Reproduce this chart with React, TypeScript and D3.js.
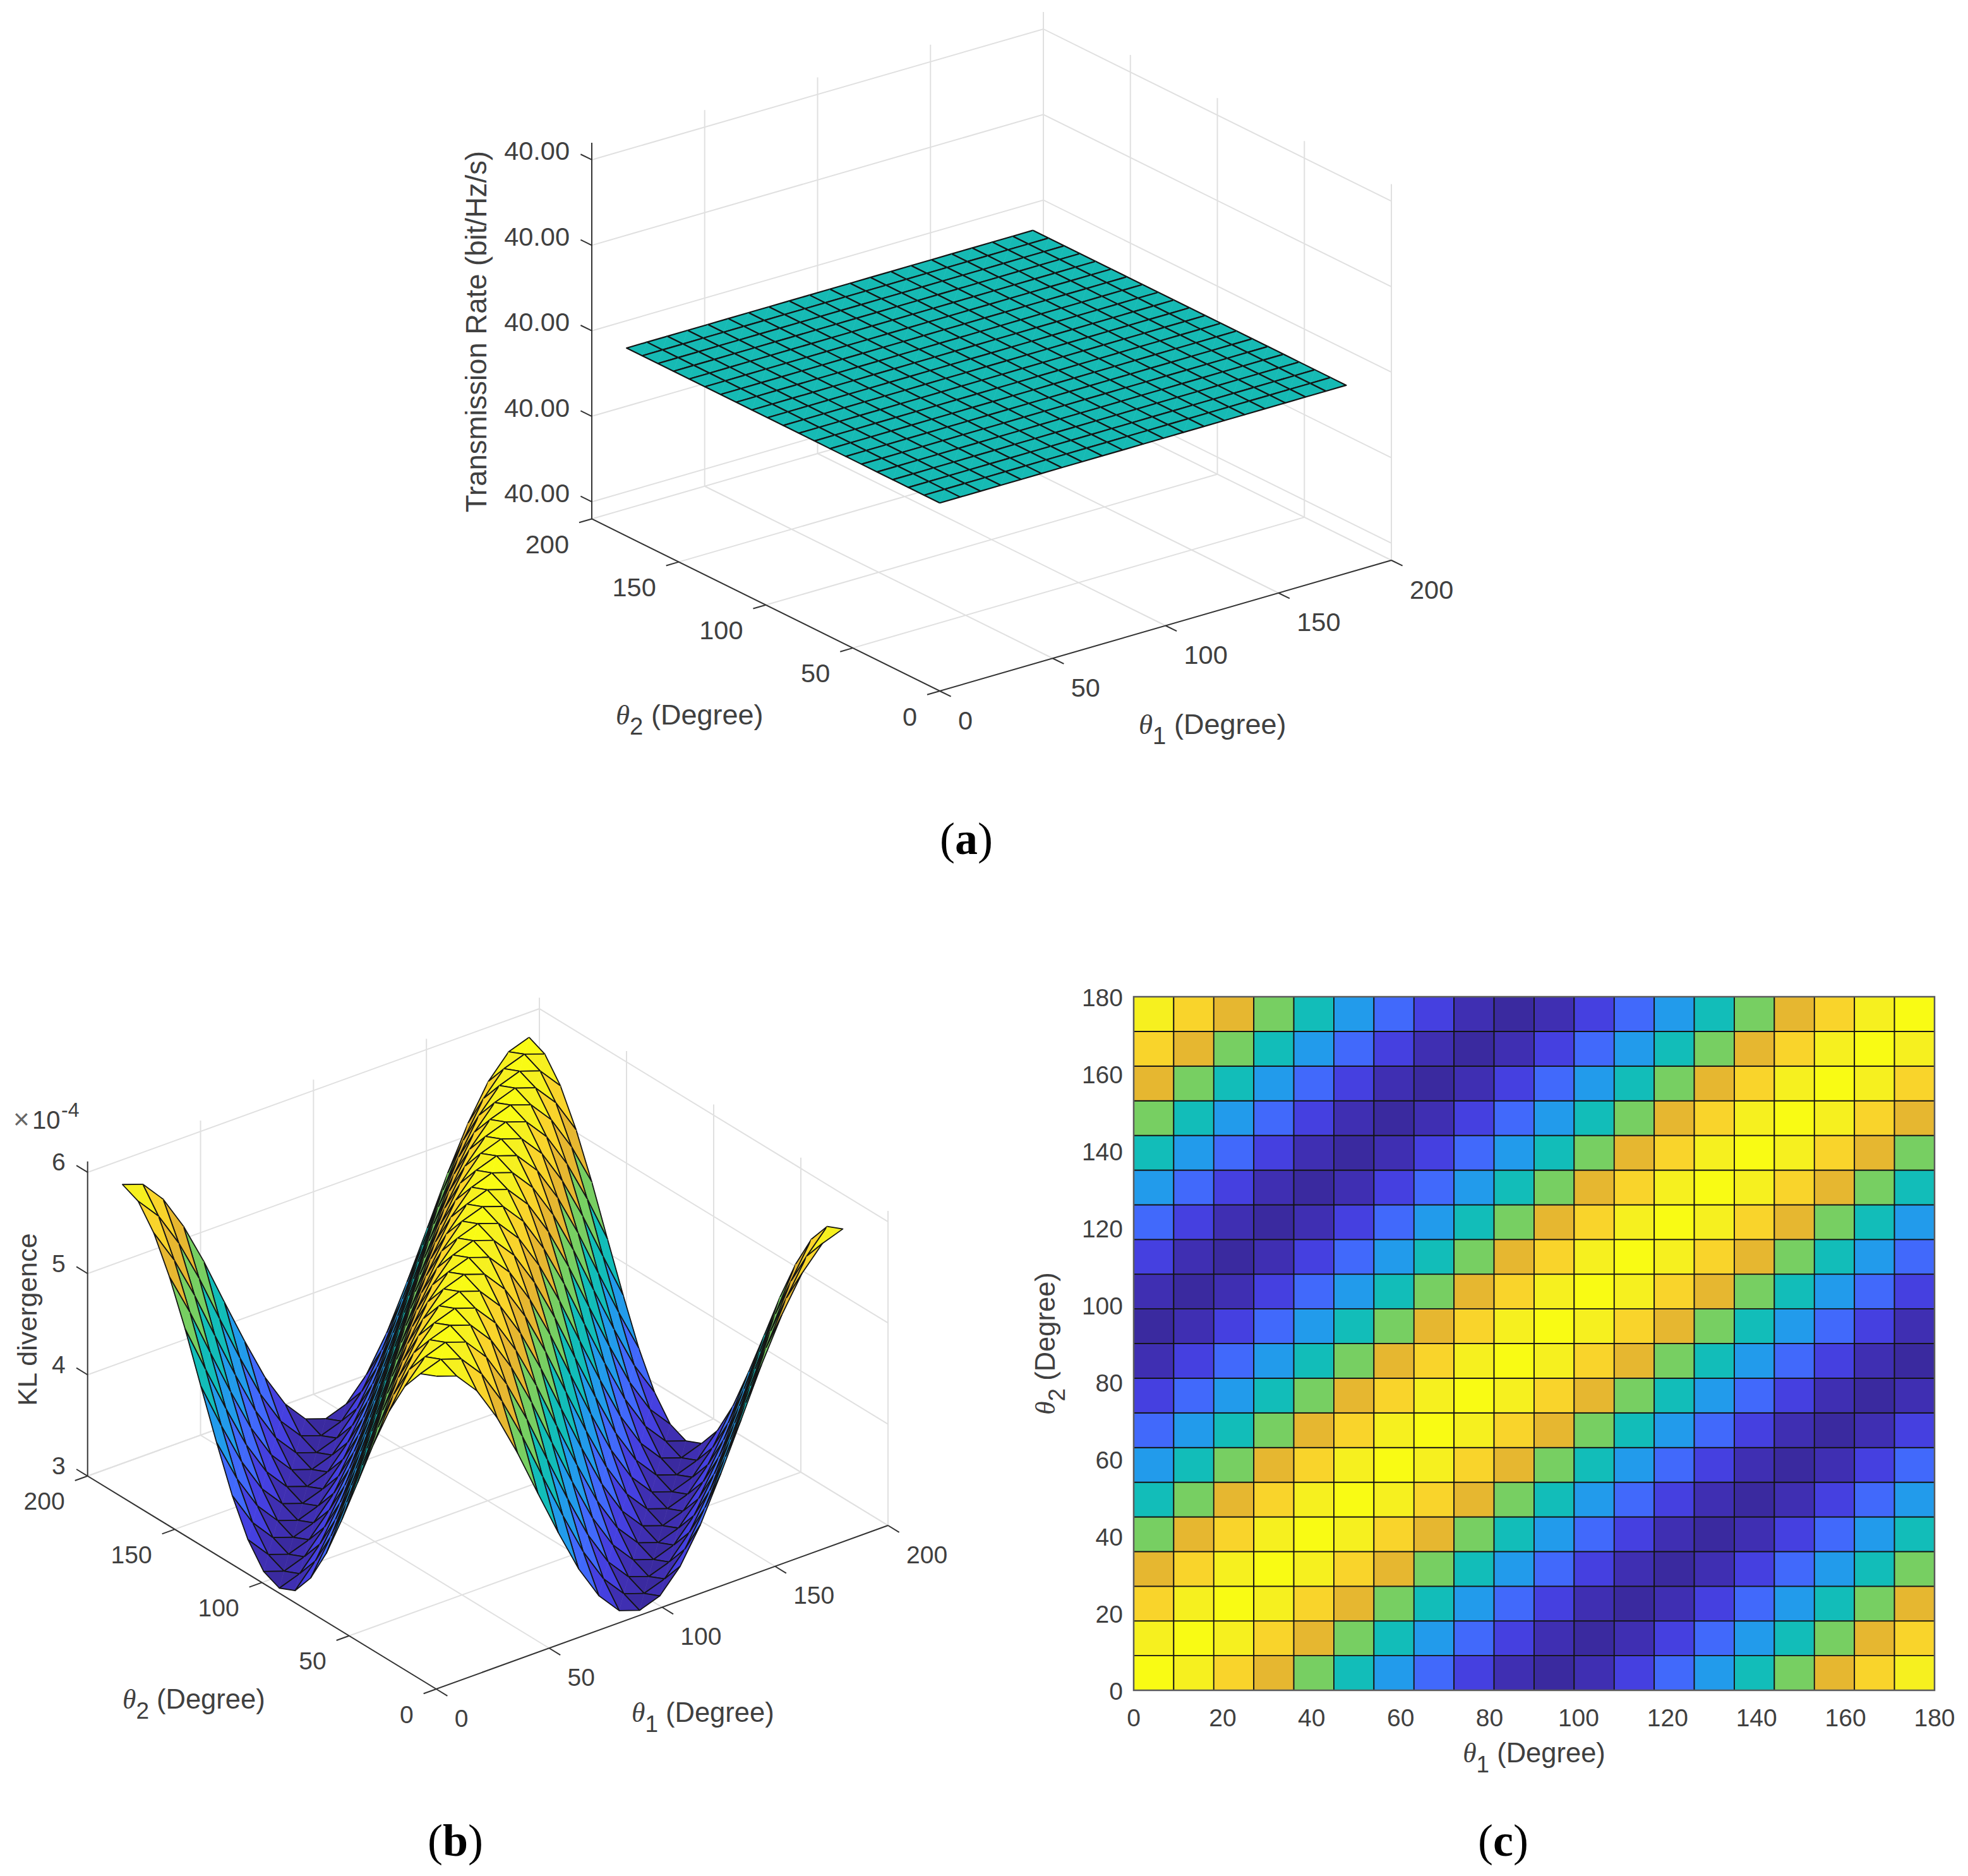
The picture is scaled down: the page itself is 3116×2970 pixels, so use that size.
import React from 'react';
import * as d3 from 'd3';

// Ángulos de la malla (grados)
const thetaGrid = [0, 9, 18, 27, 36, 45, 54, 63, 72, 81, 90, 99, 108, 117, 126, 135, 144, 153, 162, 171, 180];
const theta3dTicks = [0, 50, 100, 150, 200];
const thetaHeatTicks = [0, 20, 40, 60, 80, 100, 120, 140, 160, 180];

// (a) tasa de transmisión: plano constante
const rateValue = 40;
const rateTicks = [39.9998, 39.9999, 40, 40.0001, 40.0002];
const rateDomain: [number, number] = [39.99978, 40.00022];

// (b)(c) divergencia KL: valores leídos (x 1e-4) y color de cada nivel
const klValues = [3.05, 3.12, 3.34, 3.68, 4.11, 4.57, 5.04, 5.46, 5.8, 6.02, 6.09];
const klPalette = ['#3a2a9f', '#3f2fb2', '#4540e0', '#4169fb', '#229beb', '#12bdb9', '#77cf62', '#e6b730', '#f9d42b', '#f6f01f', '#f9fb14'];
const klTicks = [3, 4, 5, 6];
const klDomain: [number, number] = [3, 6.107];

// Nivel de cada vértice: filas = theta2, columnas = theta1
const klGrid = [
  [10, 9, 8, 7, 6, 5, 4, 3, 2, 1, 0, 1, 2, 3, 4, 5, 6, 7, 8, 9, 10],
  [9, 10, 9, 8, 7, 6, 5, 4, 3, 2, 1, 0, 1, 2, 3, 4, 5, 6, 7, 8, 9],
  [8, 9, 10, 9, 8, 7, 6, 5, 4, 3, 2, 1, 0, 1, 2, 3, 4, 5, 6, 7, 8],
  [7, 8, 9, 10, 9, 8, 7, 6, 5, 4, 3, 2, 1, 0, 1, 2, 3, 4, 5, 6, 7],
  [6, 7, 8, 9, 10, 9, 8, 7, 6, 5, 4, 3, 2, 1, 0, 1, 2, 3, 4, 5, 6],
  [5, 6, 7, 8, 9, 10, 9, 8, 7, 6, 5, 4, 3, 2, 1, 0, 1, 2, 3, 4, 5],
  [4, 5, 6, 7, 8, 9, 10, 9, 8, 7, 6, 5, 4, 3, 2, 1, 0, 1, 2, 3, 4],
  [3, 4, 5, 6, 7, 8, 9, 10, 9, 8, 7, 6, 5, 4, 3, 2, 1, 0, 1, 2, 3],
  [2, 3, 4, 5, 6, 7, 8, 9, 10, 9, 8, 7, 6, 5, 4, 3, 2, 1, 0, 1, 2],
  [1, 2, 3, 4, 5, 6, 7, 8, 9, 10, 9, 8, 7, 6, 5, 4, 3, 2, 1, 0, 1],
  [0, 1, 2, 3, 4, 5, 6, 7, 8, 9, 10, 9, 8, 7, 6, 5, 4, 3, 2, 1, 0],
  [1, 0, 1, 2, 3, 4, 5, 6, 7, 8, 9, 10, 9, 8, 7, 6, 5, 4, 3, 2, 1],
  [2, 1, 0, 1, 2, 3, 4, 5, 6, 7, 8, 9, 10, 9, 8, 7, 6, 5, 4, 3, 2],
  [3, 2, 1, 0, 1, 2, 3, 4, 5, 6, 7, 8, 9, 10, 9, 8, 7, 6, 5, 4, 3],
  [4, 3, 2, 1, 0, 1, 2, 3, 4, 5, 6, 7, 8, 9, 10, 9, 8, 7, 6, 5, 4],
  [5, 4, 3, 2, 1, 0, 1, 2, 3, 4, 5, 6, 7, 8, 9, 10, 9, 8, 7, 6, 5],
  [6, 5, 4, 3, 2, 1, 0, 1, 2, 3, 4, 5, 6, 7, 8, 9, 10, 9, 8, 7, 6],
  [7, 6, 5, 4, 3, 2, 1, 0, 1, 2, 3, 4, 5, 6, 7, 8, 9, 10, 9, 8, 7],
  [8, 7, 6, 5, 4, 3, 2, 1, 0, 1, 2, 3, 4, 5, 6, 7, 8, 9, 10, 9, 8],
  [9, 8, 7, 6, 5, 4, 3, 2, 1, 0, 1, 2, 3, 4, 5, 6, 7, 8, 9, 10, 9],
  [10, 9, 8, 7, 6, 5, 4, 3, 2, 1, 0, 1, 2, 3, 4, 5, 6, 7, 8, 9, 10],
];

const SANS = '"Liberation Sans", Arial, sans-serif';
const SERIF = '"Liberation Serif", "Times New Roman", serif';
const TEXT = '#404040';
const AXIS = '#333333';
const GRID = '#e0e0e0';

const klColor = d3.scaleOrdinal<number, string>(d3.range(klPalette.length), klPalette);
const klHeight = d3.scaleOrdinal<number, number>(d3.range(klValues.length), klValues);
const line = d3.line();

// Etiqueta con theta y subíndice
const ThetaLabel = ({ sub, size, ...rest }: any) => (
  <text fontFamily={SANS} fontSize={size} fill={TEXT} {...rest}>
    <tspan fontFamily={SERIF} fontStyle="italic">θ</tspan>
    <tspan dy={size * 0.36} fontSize={size * 0.85}>{sub}</tspan>
    <tspan dy={-size * 0.36}> (Degree)</tspan>
  </text>
);

// Ejes y superficie en proyección ortográfica de MATLAB
const Surface3D = ({ geom, zDomain, zTicks, zFormat, zAt, colorAt, tickSize, edgeWidth }: any) => {
  const { front, right, left, height, depth } = geom;
  const t = d3.scaleLinear([0, 200], [0, 1]);
  const h = d3.scaleLinear(zDomain, [0, height]);
  const project = (a: number, b: number, z: number): [number, number] => [
    front[0] + t(a) * (right[0] - front[0]) + t(b) * (left[0] - front[0]),
    front[1] + t(a) * (right[1] - front[1]) + t(b) * (left[1] - front[1]) - h(z),
  ];
  const [z0, z1] = zDomain;
  const tickA = [(front[0] - right[0]) * 0.028, (front[1] - right[1]) * 0.028];
  const tickB = [(front[0] - left[0]) * 0.032, (front[1] - left[1]) * 0.032];

  // Triángulos ordenados de atrás hacia delante; la arista diagonal no se dibuja
  const tris: any[] = [];
  for (let j = 0; j < thetaGrid.length - 1; j++) {
    for (let i = 0; i < thetaGrid.length - 1; i++) {
      const v = (ii: number, jj: number) => ({ a: thetaGrid[ii], b: thetaGrid[jj], z: zAt(ii, jj) });
      const p00 = v(i, j), p10 = v(i + 1, j), p01 = v(i, j + 1), p11 = v(i + 1, j + 1);
      [[p00, p10, p11], [p00, p01, p11]].forEach(tri => {
        const dist = d3.mean(tri, p => t(p.a) * depth[0] + t(p.b) * depth[1] - (h(p.z) / height) * depth[2]);
        tris.push({ key: `${i}-${j}-${tri[1] === p10 ? 'a' : 'b'}`, tri, dist, fill: colorAt(i, j) });
      });
    }
  }
  tris.sort((m, n) => d3.descending(m.dist, n.dist));

  const gridLines: [number, number][][] = [];
  theta3dTicks.forEach(d => {
    gridLines.push([project(d, 0, z0), project(d, 200, z0)]);
    gridLines.push([project(0, d, z0), project(200, d, z0)]);
    if (d > 0) {
      gridLines.push([project(d, 200, z0), project(d, 200, z1)]);
      gridLines.push([project(200, d, z0), project(200, d, z1)]);
    }
  });
  gridLines.push([project(200, 0, z0), project(200, 0, z1)]);
  zTicks.forEach((z: number) => {
    gridLines.push([project(0, 200, z), project(200, 200, z), project(200, 0, z)]);
  });

  return (
    <g>
      <g fill="none" stroke={GRID} strokeWidth={2}>
        {gridLines.map((l, i) => <path key={i} d={line(l)!} />)}
      </g>
      <g fill="none" stroke={AXIS} strokeWidth={2}>
        <path d={line([project(0, 200, z1), project(0, 200, z0), project(0, 0, z0), project(200, 0, z0)])!} />
        {theta3dTicks.map(d => {
          const p = project(d, 0, z0), q = project(0, d, z0);
          return (
            <g key={d}>
              <path d={line([p, [p[0] + tickB[0], p[1] + tickB[1]]])!} />
              <path d={line([q, [q[0] + tickA[0], q[1] + tickA[1]]])!} />
            </g>
          );
        })}
        {zTicks.map((z: number) => {
          const p = project(0, 200, z);
          return <path key={z} d={line([p, [p[0] - tickB[0], p[1] - tickB[1]]])!} />;
        })}
      </g>
      <g fontFamily={SANS} fontSize={tickSize} fill={TEXT} dominantBaseline="central">
        {theta3dTicks.map(d => {
          const p = project(d, 0, z0), q = project(0, d, z0);
          return (
            <g key={d}>
              <text x={p[0] + 29} y={p[1] + 46}>{d}</text>
              <text x={q[0] - 36} y={q[1] + 40} textAnchor="end">{d}</text>
            </g>
          );
        })}
        {zTicks.map((z: number) => {
          const p = project(0, 200, z);
          return <text key={z} x={p[0] - 35} y={p[1] - geom.zLabelShift} textAnchor="end">{zFormat(z)}</text>;
        })}
      </g>
      <g strokeLinejoin="round">
        {tris.map(d => {
          const pts = d.tri.map((p: any) => project(p.a, p.b, p.z));
          return (
            <g key={d.key}>
              <path d={line(pts)! + 'Z'} fill={d.fill} stroke={d.fill} strokeWidth={0.6} />
              <path d={line(pts)!} fill="none" stroke="#141414" strokeWidth={edgeWidth} />
            </g>
          );
        })}
      </g>
    </g>
  );
};

const heatX = d3.scaleLinear([0, 180], [1795, 3063]);
const heatY = d3.scaleLinear([0, 180], [2676, 1578]);

const HeatMap = () => (
  <g>
    {klGrid.slice(0, -1).map((row, j) =>
      row.slice(0, -1).map((level, i) => (
        <rect
          key={`${i}-${j}`}
          x={heatX(thetaGrid[i])}
          y={heatY(thetaGrid[j + 1])}
          width={heatX(thetaGrid[i + 1]) - heatX(thetaGrid[i])}
          height={heatY(thetaGrid[j]) - heatY(thetaGrid[j + 1])}
          fill={klColor(level)}
          stroke="#141414"
          strokeWidth={1.8}
        />
      ))
    )}
    <rect x={heatX(0)} y={heatY(180)} width={heatX(180) - heatX(0)} height={heatY(0) - heatY(180)} fill="none" stroke="#5a5a5a" strokeWidth={2.5} />
    <g fontFamily={SANS} fontSize={39} fill={TEXT} dominantBaseline="central">
      {thetaHeatTicks.map(d => (
        <g key={d}>
          <text x={heatX(d)} y={heatY(0) + 43} textAnchor="middle">{d}</text>
          <text x={heatX(0) - 17} y={heatY(d) + 1} textAnchor="end">{d}</text>
        </g>
      ))}
    </g>
    <ThetaLabel sub="1" size={43.5} x={(heatX(0) + heatX(180)) / 2} y={2790} textAnchor="middle" />
    <ThetaLabel sub="2" size={43.5} textAnchor="middle" transform={`translate(1670,${(heatY(0) + heatY(180)) / 2}) rotate(-90)`} />
  </g>
);

const SubLabel = ({ x, y, letter }: any) => (
  <text x={x} y={y} fontFamily={SERIF} fontSize={72} fill="#000" textAnchor="middle">
    (<tspan fontWeight="bold">{letter}</tspan>)
  </text>
);

const geomA = { front: [1488, 1094], right: [2203, 887], left: [937, 821.5], height: 595.6, depth: [510, 662, 245], zLabelShift: 14 };
const geomB = { front: [690.7, 2674], right: [1406, 2415], left: [138.7, 2336.8], height: 498, depth: [485, 628, 265], zLabelShift: 16 };

const App = () => (
  <svg width={3116} height={2970} style={{ position: 'absolute', left: 0, top: 0, background: '#fff' }}>
    <Surface3D
      geom={geomA}
      zDomain={rateDomain}
      zTicks={rateTicks}
      zFormat={d3.format('.2f')}
      zAt={() => rateValue}
      colorAt={() => '#16bab4'}
      tickSize={41.5}
      edgeWidth={2.2}
    />
    <ThetaLabel sub="2" size={45} x={975} y={1147} />
    <ThetaLabel sub="1" size={45} x={1803} y={1162} />
    <text fontFamily={SANS} fontSize={45.5} fill={TEXT} textAnchor="middle" transform="translate(770,525) rotate(-90)">Transmission Rate (bit/Hz/s)</text>
    <SubLabel x={1530} y={1352} letter="a" />

    <Surface3D
      geom={geomB}
      zDomain={klDomain}
      zTicks={klTicks}
      zFormat={d3.format('d')}
      zAt={(i: number, j: number) => klHeight(klGrid[j][i])}
      colorAt={(i: number, j: number) => klColor(klGrid[j][i])}
      tickSize={39}
      edgeWidth={1.8}
    />
    <ThetaLabel sub="2" size={43.5} x={194} y={2705} />
    <ThetaLabel sub="1" size={43.5} x={1000} y={2726} />
    <text fontFamily={SANS} fontSize={43} fill={TEXT} textAnchor="middle" transform="translate(58,2089) rotate(-90)">KL divergence</text>
    <g fontFamily={SANS} fill={TEXT}>
      <text x={21} y={1787} fontSize={44} fill="#666">×</text>
      <text x={51} y={1787} fontSize={40}>10</text>
      <text x={97} y={1768} fontSize={32}>-4</text>
    </g>
    <SubLabel x={721} y={2938} letter="b" />

    <HeatMap />
    <SubLabel x={2380} y={2938} letter="c" />
  </svg>
);

export default App;
